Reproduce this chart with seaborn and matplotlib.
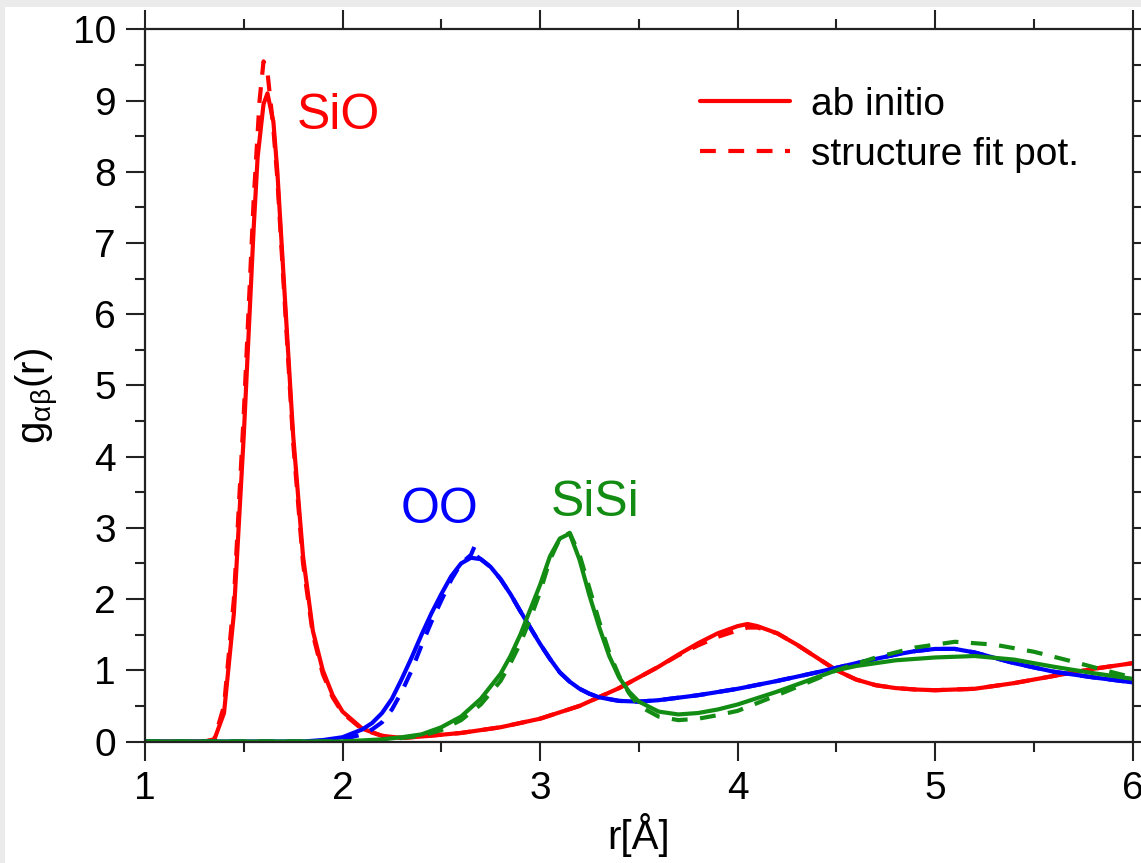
import numpy as np
import pandas as pd
import matplotlib
matplotlib.use("Agg")
import matplotlib.pyplot as plt
import seaborn as sns
from matplotlib.lines import Line2D
from matplotlib.patches import Rectangle
from matplotlib.ticker import MultipleLocator

# ---------------- data ----------------
sio_ab_r = [1.0, 1.30, 1.35, 1.40, 1.45, 1.50, 1.55, 1.57, 1.60, 1.62, 1.65, 1.67, 1.70, 1.75,
            1.80, 1.85, 1.90, 1.95, 2.00, 2.10, 2.20, 2.30, 2.40, 2.60, 2.80, 3.00, 3.20, 3.40,
            3.60, 3.70, 3.80, 3.90, 4.00, 4.05, 4.10, 4.20, 4.30, 4.40, 4.50, 4.60, 4.70, 4.80,
            4.90, 5.00, 5.20, 5.40, 5.60, 5.80, 6.00]
sio_ab_g = [0.0, 0.0, 0.02, 0.4, 1.8, 4.3, 7.2, 8.2, 8.95, 9.1, 8.7, 8.0, 6.6, 4.3,
            2.6, 1.55, 1.0, 0.65, 0.42, 0.18, 0.08, 0.05, 0.07, 0.12, 0.2, 0.32, 0.5, 0.75,
            1.05, 1.22, 1.38, 1.52, 1.62, 1.65, 1.62, 1.52, 1.36, 1.18, 1.0, 0.87, 0.79, 0.75,
            0.73, 0.72, 0.74, 0.82, 0.92, 1.02, 1.1]

sio_fit_r = [1.0, 1.30, 1.35, 1.40, 1.45, 1.50, 1.55, 1.58, 1.60, 1.62, 1.65, 1.67, 1.70, 1.75,
             1.80, 1.85, 1.90, 1.95, 2.00, 2.10, 2.20, 2.30, 2.40, 2.60, 2.80, 3.00, 3.20, 3.40,
             3.60, 3.70, 3.80, 3.90, 4.00, 4.05, 4.10, 4.20, 4.30, 4.40, 4.50, 4.60, 4.70, 4.80,
             4.90, 5.00, 5.20, 5.40, 5.60, 5.80, 6.00]
sio_fit_g = [0.0, 0.0, 0.03, 0.5, 2.0, 4.6, 7.6, 9.0, 9.55, 9.4, 8.6, 7.9, 6.5, 4.2,
             2.5, 1.5, 0.95, 0.62, 0.4, 0.17, 0.08, 0.05, 0.07, 0.12, 0.2, 0.32, 0.5, 0.75,
             1.05, 1.21, 1.35, 1.47, 1.56, 1.6, 1.6, 1.52, 1.36, 1.18, 1.0, 0.87, 0.79, 0.75,
             0.73, 0.72, 0.74, 0.82, 0.92, 1.02, 1.1]

oo_ab_r = [1.0, 1.80, 1.90, 2.00, 2.10, 2.15, 2.20, 2.25, 2.30, 2.35, 2.40, 2.45, 2.50, 2.55,
           2.60, 2.65, 2.70, 2.75, 2.80, 2.85, 2.90, 2.95, 3.00, 3.05, 3.10, 3.15, 3.20, 3.25,
           3.30, 3.40, 3.50, 3.60, 3.80, 4.00, 4.20, 4.40, 4.60, 4.80, 4.90, 5.00, 5.10, 5.20,
           5.40, 5.60, 5.80, 6.00]
oo_ab_g = [0.0, 0.0, 0.02, 0.06, 0.17, 0.26, 0.4, 0.6, 0.88, 1.18, 1.5, 1.8, 2.07, 2.32,
           2.5, 2.58, 2.56, 2.45, 2.28, 2.07, 1.83, 1.6, 1.37, 1.16, 0.97, 0.84, 0.74, 0.67,
           0.62, 0.57, 0.56, 0.58, 0.65, 0.74, 0.85, 0.97, 1.1, 1.22, 1.27, 1.3, 1.3, 1.25,
           1.1, 0.98, 0.9, 0.83]

oo_fit_r = [1.0, 1.80, 1.90, 2.00, 2.10, 2.15, 2.20, 2.25, 2.30, 2.35, 2.40, 2.45, 2.50, 2.55,
            2.60, 2.65, 2.67, 2.68, 2.70, 2.75, 2.80, 2.85, 2.90, 2.95, 3.00, 3.05, 3.10, 3.15,
            3.20, 3.25, 3.30, 3.40, 3.50, 3.60, 3.80, 4.00, 4.20, 4.40, 4.60, 4.80, 4.90, 5.00,
            5.10, 5.20, 5.40, 5.60, 5.80, 6.00]
oo_fit_g = [0.0, 0.0, 0.01, 0.03, 0.1, 0.17, 0.27, 0.45, 0.7, 1.0, 1.35, 1.68, 1.98, 2.27,
            2.5, 2.62, 2.75, 2.6, 2.56, 2.45, 2.28, 2.07, 1.83, 1.6, 1.37, 1.16, 0.97, 0.84,
            0.74, 0.67, 0.62, 0.57, 0.56, 0.58, 0.65, 0.74, 0.85, 0.97, 1.1, 1.22, 1.27, 1.3,
            1.3, 1.25, 1.1, 0.98, 0.9, 0.83]

sisi_ab_r = [1.0, 2.00, 2.20, 2.30, 2.40, 2.50, 2.60, 2.70, 2.80, 2.85, 2.90, 2.95, 3.00, 3.05,
             3.10, 3.15, 3.20, 3.25, 3.30, 3.35, 3.40, 3.45, 3.50, 3.60, 3.70, 3.80, 3.90, 4.00,
             4.20, 4.40, 4.50, 4.60, 4.80, 5.00, 5.20, 5.40, 5.60, 5.80, 6.00]
sisi_ab_g = [0.0, 0.0, 0.03, 0.06, 0.1, 0.2, 0.35, 0.6, 0.95, 1.2, 1.5, 1.85, 2.2, 2.6,
             2.85, 2.92, 2.55, 2.05, 1.6, 1.2, 0.9, 0.7, 0.56, 0.42, 0.38, 0.4, 0.45, 0.52,
             0.7, 0.9, 1.0, 1.06, 1.14, 1.18, 1.2, 1.15, 1.05, 0.96, 0.88]

sisi_fit_r = [1.0, 2.00, 2.20, 2.30, 2.40, 2.50, 2.60, 2.70, 2.80, 2.85, 2.90, 2.95, 3.00, 3.05,
              3.10, 3.15, 3.20, 3.25, 3.30, 3.35, 3.40, 3.45, 3.50, 3.60, 3.70, 3.80, 3.90, 4.00,
              4.20, 4.40, 4.50, 4.70, 4.90, 5.10, 5.30, 5.50, 5.70, 5.90, 6.00]
sisi_fit_g = [0.0, 0.0, 0.02, 0.05, 0.08, 0.16, 0.3, 0.52, 0.85, 1.1, 1.38, 1.72, 2.1, 2.55,
              2.85, 2.93, 2.62, 2.15, 1.68, 1.25, 0.92, 0.68, 0.5, 0.35, 0.3, 0.32, 0.37, 0.43,
              0.65, 0.88, 1.0, 1.18, 1.32, 1.4, 1.36, 1.26, 1.12, 0.97, 0.9]

pairs = ["SiO", "OO", "SiSi"]
methods = ["ab initio", "structure fit pot."]
pair_colors = {"SiO": "#ff0000", "OO": "#0000ff", "SiSi": "#128c12"}
label_pos = {"SiO": (1.98, 8.78), "OO": (2.49, 3.25), "SiSi": (3.28, 3.35)}

curves = [
    ("SiO", "ab initio", sio_ab_r, sio_ab_g),
    ("SiO", "structure fit pot.", sio_fit_r, sio_fit_g),
    ("OO", "ab initio", oo_ab_r, oo_ab_g),
    ("OO", "structure fit pot.", oo_fit_r, oo_fit_g),
    ("SiSi", "ab initio", sisi_ab_r, sisi_ab_g),
    ("SiSi", "structure fit pot.", sisi_fit_r, sisi_fit_g),
]
frames = []
for p, m, r, g in curves:
    frames.append(pd.DataFrame({"r": r, "g": g, "pair": p, "method": m}))
df = pd.concat(frames, ignore_index=True)

# ---------------- style ----------------
sns.set_theme(style="ticks")
plt.rcParams["font.family"] = ["Liberation Sans", "DejaVu Sans"]
plt.rcParams["text.color"] = "black"
plt.rcParams["axes.labelcolor"] = "black"
plt.rcParams["mathtext.fontset"] = "custom"
plt.rcParams["mathtext.rm"] = "Liberation Sans"
plt.rcParams["mathtext.it"] = "Liberation Sans:italic"
plt.rcParams["mathtext.default"] = "regular"

fig = plt.figure(figsize=(11.41, 8.63), dpi=100)
fig.patch.set_facecolor("white")
# light grey strips at the top and left edge of the screenshot
fig.patches.append(Rectangle((0, 1 - 7 / 863), 1, 7 / 863, transform=fig.transFigure,
                             facecolor="#ebebeb", edgecolor="none", zorder=0))
fig.patches.append(Rectangle((0, 0), 5 / 1141, 1, transform=fig.transFigure,
                             facecolor="#ebebeb", edgecolor="none", zorder=0))

ax = fig.add_axes([145 / 1141, (863 - 741.5) / 863, 987.7 / 1141, 712.2 / 863])
ax.set_facecolor("white")

dash_map = {"ab initio": "", "structure fit pot.": (3.8, 3.0)}
for p in pairs:
    sub = df[df["pair"] == p]
    sns.lineplot(data=sub, x="r", y="g", hue="pair", style="method",
                 palette={p: pair_colors[p]}, dashes=dash_map,
                 style_order=methods, estimator=None, linewidth=3,
                 legend=False, ax=ax)

for p in pairs:
    ax.text(label_pos[p][0], label_pos[p][1], p, color=pair_colors[p],
            fontsize=36, ha="center", va="center")

ax.set_xlim(1, 6)
ax.set_ylim(0, 10)
ax.xaxis.set_major_locator(MultipleLocator(1))
ax.xaxis.set_minor_locator(MultipleLocator(0.5))
ax.yaxis.set_major_locator(MultipleLocator(1))
ax.yaxis.set_minor_locator(MultipleLocator(0.5))
ax.tick_params(which="both", direction="out", top=True, right=True,
               labeltop=False, labelright=False, color="#222222", width=1.5)
ax.tick_params(which="major", length=14, labelsize=28, pad=7, labelcolor="black")
ax.tick_params(which="minor", length=7)
for s in ax.spines.values():
    s.set_linewidth(1.6)
    s.set_color("#222222")

ax.set_xlabel("r[Å]", fontsize=29, color="black")
ax.set_ylabel(r"g$_{\alpha\beta}$(r)", fontsize=29, color="black")
ax.xaxis.set_label_coords(0.5, -0.100)
ax.yaxis.set_label_coords(-0.085, 0.485)

handles = [Line2D([], [], color="#ff0000", lw=3, linestyle="-"),
           Line2D([], [], color="#ff0000", lw=3, dashes=(3.8, 3.0))]
ax.legend(handles, methods, loc="upper left", bbox_to_anchor=(0.562, 0.919),
          frameon=False, fontsize=28, handlelength=2.3, handletextpad=0.55,
          labelspacing=0.36, borderpad=0, borderaxespad=0, labelcolor="black")

fig.savefig("out.png", dpi=100)
